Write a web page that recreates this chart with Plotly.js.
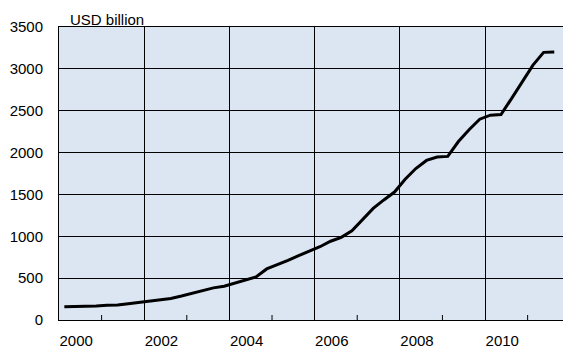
<!DOCTYPE html>
<html>
<head>
<meta charset="utf-8">
<script src="https://cdn.plot.ly/plotly-3.0.1.min.js"></script>
<style>html,body{margin:0;padding:0;background:#fff;}#chart{width:563px;height:349px;}</style>
</head>
<body>
<div id="chart"></div>
<script>
// Quarterly foreign exchange reserves, USD billion
const years = [2000,2000,2000,2000,2001,2001,2001,2001,2002,2002,2002,2002,2003,2003,2003,2003,
  2004,2004,2004,2004,2005,2005,2005,2005,2006,2006,2006,2006,2007,2007,2007,2007,
  2008,2008,2008,2008,2009,2009,2009,2009,2010,2010,2010,2010,2011,2011,2011];
const quarters = [1,2,3,4,1,2,3,4,1,2,3,4,1,2,3,4,1,2,3,4,1,2,3,4,1,2,3,4,1,2,3,4,
  1,2,3,4,1,2,3,4,1,2,3,4,1,2,3];
const reserves = [158,159,161,166,175,180,195,212,228,243,258,286,316,346,384,403,
  440,471,515,610,659,711,769,819,875,941,988,1066,1202,1333,1434,1528,
  1682,1809,1906,1946,1954,2132,2273,2399,2447,2454,2648,2847,3045,3197,3202];
const xTickVals = [2000,2002,2004,2006,2008,2010];
const xTickText = ['2000','2002','2004','2006','2008','2010'];
const minorTickYears = [2001,2003,2005,2007,2009,2011];
const unitLabel = 'USD billion';

const xs = years.map((y,i)=> y + (quarters[i]-0.5)/4);

const font = {family:'Liberation Sans, Arial, sans-serif', size:15, color:'#000'};

// small inside tick marks at odd years, placed through the x axis
const minorTicks = minorTickYears.map(v => ({
  type:'line', xref:'x', yref:'paper', x0:v, x1:v,
  ysizemode:'pixel', yanchor:0, y0:0, y1:5,
  line:{color:'#000', width:1}, layer:'above'
}));

Plotly.newPlot('chart', [{
  x: xs, y: reserves, type:'scatter', mode:'lines',
  line:{color:'#000', width:3}, hoverinfo:'skip'
}], {
  width:563, height:349,
  margin:{l:59, r:0, t:27, b:29, pad:0},
  paper_bgcolor:'#fff', plot_bgcolor:'#dce6f2',
  showlegend:false,
  font: font,
  xaxis:{
    range:[2000, 2011.83], tickmode:'array', tickvals:xTickVals, ticktext:xTickText,
    ticks:'', showgrid:true, gridcolor:'#000', gridwidth:1,
    showline:true, linecolor:'#000', linewidth:1, mirror:true,
    ticklabelposition:'outside right', ticklabelstandoff:7,
    zeroline:false, tickfont:font
  },
  yaxis:{
    range:[0,3500], dtick:500, tick0:0, ticks:'',
    showgrid:true, gridcolor:'#000', gridwidth:1,
    showline:true, linecolor:'#000', linewidth:1, mirror:true,
    zeroline:false, tickfont:font, ticklabelstandoff:12
  },
  shapes: minorTicks,
  annotations:[{
    text:unitLabel, xref:'paper', yref:'paper', x:(68-59)/504, y:1,
    xanchor:'left', yanchor:'bottom', showarrow:false, yshift:-3,
    font:{family:'Liberation Sans, Arial, sans-serif', size:15, color:'#000'}
  }]
}, {staticPlot:true, displayModeBar:false});
</script>
</body>
</html>
